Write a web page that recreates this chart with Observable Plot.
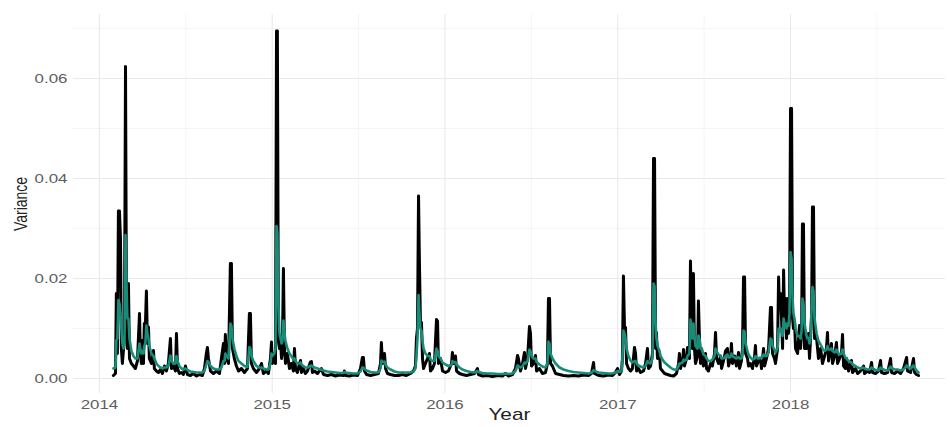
<!DOCTYPE html>
<html>
<head>
<meta charset="utf-8">
<script src="https://cdn.jsdelivr.net/npm/d3@7"></script>
<script src="https://cdn.jsdelivr.net/npm/@observablehq/plot@0.6"></script>
<style>
  body { margin: 0; background: #fff; }
</style>
</head>
<body>
<div id="chart"></div>
<script>
// Observation times, in decimal years
const year = [
  2014.081, 2014.093, 2014.098, 2014.104, 2014.110, 2014.116, 2014.122, 2014.127, 2014.133, 2014.139,
  2014.145, 2014.151, 2014.156, 2014.162, 2014.168, 2014.174, 2014.185, 2014.197, 2014.208, 2014.220,
  2014.232, 2014.237, 2014.243, 2014.249, 2014.255, 2014.260, 2014.266, 2014.272, 2014.278, 2014.284,
  2014.289, 2014.301, 2014.313, 2014.318, 2014.330, 2014.342, 2014.353, 2014.365, 2014.376, 2014.388,
  2014.399, 2014.411, 2014.417, 2014.428, 2014.440, 2014.446, 2014.452, 2014.463, 2014.475, 2014.486,
  2014.498, 2014.509, 2014.527, 2014.544, 2014.562, 2014.579, 2014.596, 2014.608, 2014.619, 2014.625,
  2014.631, 2014.643, 2014.660, 2014.677, 2014.695, 2014.706, 2014.718, 2014.724, 2014.729, 2014.735,
  2014.747, 2014.758, 2014.764, 2014.770, 2014.781, 2014.793, 2014.805, 2014.822, 2014.839, 2014.857,
  2014.868, 2014.874, 2014.880, 2014.891, 2014.909, 2014.926, 2014.938, 2014.949, 2014.967, 2014.978,
  2014.990, 2014.996, 2015.001, 2015.013, 2015.019, 2015.025, 2015.030, 2015.036, 2015.042, 2015.048,
  2015.054, 2015.059, 2015.065, 2015.071, 2015.077, 2015.088, 2015.100, 2015.111, 2015.123, 2015.129,
  2015.135, 2015.146, 2015.158, 2015.164, 2015.169, 2015.181, 2015.192, 2015.204, 2015.221, 2015.227,
  2015.233, 2015.245, 2015.262, 2015.279, 2015.285, 2015.297, 2015.320, 2015.343, 2015.366, 2015.389,
  2015.412, 2015.418, 2015.424, 2015.447, 2015.470, 2015.494, 2015.511, 2015.522, 2015.528, 2015.534,
  2015.546, 2015.569, 2015.592, 2015.615, 2015.627, 2015.632, 2015.638, 2015.650, 2015.656, 2015.667,
  2015.685, 2015.708, 2015.731, 2015.754, 2015.777, 2015.800, 2015.818, 2015.829, 2015.835, 2015.841,
  2015.847, 2015.852, 2015.858, 2015.864, 2015.870, 2015.876, 2015.887, 2015.899, 2015.910, 2015.916,
  2015.928, 2015.939, 2015.951, 2015.957, 2015.962, 2015.974, 2015.986, 2016.003, 2016.020, 2016.038,
  2016.043, 2016.049, 2016.061, 2016.067, 2016.084, 2016.101, 2016.124, 2016.148, 2016.171, 2016.188,
  2016.194, 2016.217, 2016.246, 2016.275, 2016.304, 2016.333, 2016.350, 2016.368, 2016.391, 2016.408,
  2016.420, 2016.425, 2016.437, 2016.449, 2016.460, 2016.466, 2016.478, 2016.489, 2016.495, 2016.501,
  2016.512, 2016.524, 2016.530, 2016.547, 2016.564, 2016.582, 2016.593, 2016.599, 2016.605, 2016.611,
  2016.622, 2016.640, 2016.663, 2016.686, 2016.715, 2016.744, 2016.773, 2016.802, 2016.831, 2016.848,
  2016.860, 2016.865, 2016.889, 2016.918, 2016.946, 2016.970, 2016.987, 2016.999, 2017.010, 2017.022,
  2017.027, 2017.033, 2017.039, 2017.045, 2017.051, 2017.062, 2017.074, 2017.085, 2017.097, 2017.103,
  2017.109, 2017.120, 2017.132, 2017.149, 2017.161, 2017.172, 2017.178, 2017.190, 2017.201, 2017.207,
  2017.213, 2017.219, 2017.224, 2017.230, 2017.242, 2017.247, 2017.259, 2017.271, 2017.288, 2017.305,
  2017.323, 2017.340, 2017.352, 2017.357, 2017.363, 2017.375, 2017.381, 2017.386, 2017.398, 2017.404,
  2017.415, 2017.421, 2017.427, 2017.433, 2017.438, 2017.444, 2017.450, 2017.462, 2017.467, 2017.473,
  2017.479, 2017.485, 2017.496, 2017.508, 2017.514, 2017.525, 2017.537, 2017.548, 2017.560, 2017.566,
  2017.572, 2017.583, 2017.595, 2017.601, 2017.612, 2017.624, 2017.635, 2017.641, 2017.653, 2017.658,
  2017.664, 2017.676, 2017.687, 2017.699, 2017.705, 2017.716, 2017.722, 2017.728, 2017.734, 2017.740,
  2017.751, 2017.757, 2017.768, 2017.780, 2017.792, 2017.797, 2017.803, 2017.815, 2017.826, 2017.832,
  2017.844, 2017.850, 2017.861, 2017.873, 2017.884, 2017.890, 2017.896, 2017.907, 2017.913, 2017.925,
  2017.931, 2017.936, 2017.942, 2017.948, 2017.954, 2017.960, 2017.965, 2017.971, 2017.977, 2017.983,
  2017.988, 2017.994, 2018.000, 2018.006, 2018.012, 2018.017, 2018.023, 2018.029, 2018.041, 2018.052,
  2018.058, 2018.064, 2018.069, 2018.075, 2018.081, 2018.093, 2018.104, 2018.110, 2018.116, 2018.122,
  2018.127, 2018.133, 2018.139, 2018.151, 2018.162, 2018.174, 2018.185, 2018.197, 2018.208, 2018.214,
  2018.220, 2018.232, 2018.237, 2018.243, 2018.255, 2018.266, 2018.272, 2018.284, 2018.295, 2018.301,
  2018.307, 2018.318, 2018.324, 2018.336, 2018.353, 2018.359, 2018.376, 2018.388, 2018.405, 2018.423,
  2018.428, 2018.446, 2018.457, 2018.469, 2018.475, 2018.492, 2018.509, 2018.521, 2018.527, 2018.544,
  2018.562, 2018.579, 2018.585, 2018.602, 2018.619, 2018.637, 2018.654, 2018.672, 2018.677, 2018.695,
  2018.712, 2018.718, 2018.729, 2018.741
];

// Realized variance (black)
const realized = [
  .0006, .0010, .0170, .0050, .0335, .0335, .0280, .0060, .0030, .0056,
  .0080, .0624, .0180, .0060, .0190, .0040, .0030, .0025, .0020, .0035,
  .0130, .0050, .0030, .0076, .0030, .0110, .0105, .0175, .0070, .0103,
  .0040, .0030, .0056, .0020, .0015, .0012, .0018, .0010, .0025, .0015,
  .0030, .0080, .0020, .0025, .0015, .0090, .0020, .0010, .0012, .0008,
  .0025, .0008, .0006, .0010, .0005, .0008, .0006, .0020, .0050, .0062,
  .0040, .0015, .0010, .0015, .0010, .0040, .0070, .0030, .0088, .0040,
  .0030, .0230, .0230, .0060, .0040, .0025, .0015, .0020, .0012, .0020,
  .0130, .0130, .0030, .0020, .0012, .0020, .0030, .0010, .0015, .0010,
  .0040, .0073, .0030, .0050, .0030, .0695, .0695, .0076, .0060, .0080,
  .0040, .0060, .0220, .0060, .0030, .0050, .0020, .0030, .0015, .0060,
  .0020, .0012, .0030, .0036, .0012, .0020, .0010, .0015, .0033, .0034,
  .0012, .0015, .0010, .0018, .0020, .0008, .0006, .0008, .0005, .0007,
  .0006, .0015, .0006, .0005, .0007, .0006, .0020, .0042, .0042, .0015,
  .0008, .0006, .0008, .0010, .0030, .0072, .0030, .0050, .0020, .0010,
  .0008, .0006, .0006, .0008, .0006, .0010, .0015, .0025, .0080, .0100,
  .0365, .0237, .0112, .0112, .0040, .0020, .0030, .0040, .0050, .0015,
  .0020, .0030, .0118, .0115, .0030, .0040, .0015, .0012, .0015, .0030,
  .0052, .0030, .0045, .0015, .0010, .0008, .0006, .0008, .0010, .0020,
  .0008, .0005, .0006, .0004, .0006, .0005, .0010, .0005, .0008, .0020,
  .0046, .0040, .0015, .0030, .0052, .0020, .0040, .0104, .0090, .0025,
  .0030, .0046, .0015, .0020, .0010, .0012, .0030, .0160, .0160, .0030,
  .0025, .0010, .0008, .0006, .0005, .0006, .0005, .0007, .0006, .0010,
  .0032, .0010, .0006, .0005, .0007, .0006, .0012, .0020, .0008, .0015,
  .0040, .0205, .0102, .0102, .0030, .0020, .0015, .0020, .0062, .0050,
  .0015, .0020, .0012, .0015, .0030, .0060, .0020, .0025, .0050, .0440,
  .0440, .0060, .0092, .0040, .0050, .0020, .0015, .0010, .0008, .0006,
  .0005, .0010, .0030, .0050, .0020, .0035, .0058, .0025, .0040, .0062,
  .0040, .0235, .0080, .0060, .0210, .0060, .0030, .0045, .0155, .0080,
  .0030, .0060, .0025, .0050, .0020, .0015, .0030, .0025, .0050, .0092,
  .0040, .0030, .0045, .0020, .0035, .0055, .0060, .0025, .0040, .0070,
  .0030, .0045, .0025, .0052, .0020, .0035, .0060, .0203, .0203, .0050,
  .0040, .0025, .0030, .0020, .0045, .0066, .0025, .0035, .0040, .0020,
  .0060, .0025, .0040, .0060, .0142, .0142, .0050, .0040, .0030, .0060,
  .0203, .0140, .0170, .0120, .0060, .0217, .0120, .0160, .0080, .0160,
  .0090, .0120, .0540, .0540, .0120, .0100, .0116, .0060, .0050, .0106,
  .0060, .0090, .0309, .0309, .0060, .0060, .0090, .0040, .0080, .0130,
  .0343, .0343, .0080, .0080, .0040, .0060, .0030, .0045, .0060, .0092,
  .0035, .0060, .0070, .0030, .0045, .0072, .0030, .0040, .0050, .0088,
  .0025, .0020, .0040, .0015, .0036, .0012, .0020, .0010, .0015, .0025,
  .0010, .0015, .0012, .0032, .0012, .0010, .0015, .0036, .0012, .0010,
  .0012, .0040, .0012, .0010, .0015, .0010, .0020, .0042, .0015, .0012,
  .0040, .0012, .0008, .0006
];

// Model variance (teal)
const fitted = [
  .0020, .0022, .0076, .0080, .0157, .0150, .0130, .0100, .0070, .0060,
  .0070, .0287, .0200, .0120, .0120, .0080, .0055, .0045, .0040, .0040,
  .0070, .0060, .0050, .0055, .0050, .0065, .0070, .0106, .0090, .0080,
  .0065, .0050, .0045, .0040, .0030, .0025, .0022, .0020, .0022, .0022,
  .0025, .0046, .0035, .0030, .0030, .0045, .0035, .0025, .0020, .0018,
  .0020, .0017, .0014, .0013, .0012, .0012, .0012, .0015, .0028, .0035,
  .0033, .0025, .0020, .0018, .0018, .0022, .0035, .0035, .0050, .0045,
  .0040, .0110, .0105, .0080, .0060, .0045, .0035, .0030, .0025, .0023,
  .0063, .0060, .0045, .0035, .0025, .0022, .0022, .0020, .0018, .0018,
  .0030, .0050, .0045, .0050, .0060, .0305, .0290, .0150, .0090, .0080,
  .0070, .0075, .0116, .0090, .0075, .0060, .0050, .0045, .0038, .0040,
  .0035, .0030, .0030, .0032, .0028, .0025, .0022, .0022, .0025, .0026,
  .0024, .0022, .0020, .0018, .0018, .0016, .0014, .0013, .0012, .0011,
  .0011, .0013, .0012, .0011, .0010, .0010, .0014, .0022, .0022, .0019,
  .0016, .0013, .0012, .0012, .0020, .0036, .0033, .0034, .0028, .0022,
  .0018, .0014, .0012, .0012, .0012, .0012, .0014, .0020, .0045, .0080,
  .0167, .0130, .0100, .0095, .0075, .0060, .0050, .0045, .0045, .0038,
  .0035, .0035, .0060, .0055, .0045, .0040, .0032, .0028, .0025, .0027,
  .0035, .0032, .0033, .0028, .0022, .0018, .0015, .0013, .0012, .0015,
  .0013, .0011, .0010, .0010, .0009, .0009, .0010, .0009, .0010, .0015,
  .0026, .0025, .0022, .0025, .0032, .0030, .0035, .0058, .0055, .0045,
  .0040, .0040, .0033, .0028, .0024, .0022, .0030, .0074, .0070, .0050,
  .0040, .0030, .0022, .0018, .0015, .0013, .0012, .0011, .0010, .0011,
  .0017, .0015, .0012, .0011, .0010, .0010, .0012, .0015, .0013, .0015,
  .0040, .0096, .0090, .0080, .0060, .0045, .0036, .0032, .0035, .0035,
  .0030, .0026, .0024, .0022, .0025, .0035, .0032, .0030, .0040, .0190,
  .0185, .0110, .0080, .0065, .0055, .0045, .0038, .0032, .0027, .0022,
  .0018, .0018, .0025, .0030, .0030, .0032, .0038, .0035, .0038, .0045,
  .0050, .0118, .0100, .0080, .0110, .0085, .0065, .0060, .0086, .0080,
  .0060, .0060, .0048, .0045, .0040, .0035, .0035, .0038, .0045, .0060,
  .0055, .0048, .0045, .0040, .0040, .0045, .0048, .0042, .0043, .0050,
  .0045, .0042, .0040, .0043, .0040, .0040, .0050, .0096, .0094, .0070,
  .0055, .0048, .0042, .0038, .0040, .0045, .0042, .0040, .0042, .0040,
  .0048, .0045, .0045, .0052, .0080, .0078, .0065, .0058, .0052, .0060,
  .0100, .0095, .0100, .0095, .0085, .0120, .0110, .0110, .0100, .0110,
  .0105, .0130, .0253, .0240, .0160, .0130, .0120, .0100, .0085, .0085,
  .0080, .0095, .0160, .0150, .0110, .0085, .0080, .0070, .0080, .0140,
  .0183, .0175, .0120, .0090, .0075, .0068, .0060, .0055, .0058, .0065,
  .0058, .0058, .0060, .0055, .0052, .0058, .0052, .0048, .0050, .0058,
  .0050, .0042, .0040, .0035, .0032, .0028, .0025, .0022, .0020, .0022,
  .0020, .0018, .0018, .0022, .0020, .0017, .0016, .0022, .0020, .0017,
  .0016, .0024, .0021, .0018, .0018, .0016, .0018, .0026, .0023, .0020,
  .0026, .0022, .0016, .0012
];

const yTicks = [0, 0.02, 0.04, 0.06];
const yMinorTicks = [0.01, 0.03, 0.05, 0.07];
const xTicks = [2014, 2015, 2016, 2017, 2018];
const xMinorTicks = [2014.5, 2015.5, 2016.5, 2017.5, 2018.5];

const rows = year.map((t, i) => ({t, realized: realized[i], fitted: fitted[i]}));

const chart = Plot.plot({
  width: 950,
  height: 427,
  marginLeft: 73,
  marginRight: 5,
  marginTop: 14,
  marginBottom: 34,
  style: {fontFamily: "'Liberation Sans', Arial, sans-serif", fontSize: "13px", background: "#fff"},
  x: {domain: [2013.85, 2018.897]},
  y: {domain: [-0.003, 0.0728]},
  marks: [
    Plot.ruleY(yMinorTicks, {stroke: "#f3f3f3", strokeWidth: 0.8}),
    Plot.ruleX(xMinorTicks, {stroke: "#f3f3f3", strokeWidth: 0.8}),
    Plot.ruleY(yTicks, {stroke: "#e9e9e9", strokeWidth: 1.1}),
    Plot.ruleX(xTicks, {stroke: "#e9e9e9", strokeWidth: 1.1}),
    Plot.axisY(yTicks, {tickSize: 0, tickPadding: 6, tickFormat: d3.format(".2f"), fill: "#5e5e5e", label: null}),
    Plot.axisX(xTicks, {tickSize: 0, tickPadding: 6, tickFormat: "d", fill: "#5e5e5e", label: null}),
    Plot.line(rows, {x: "t", y: "realized", stroke: "#000", strokeWidth: 3}),
    Plot.line(rows, {x: "t", y: "fitted", stroke: "#178c78", strokeWidth: 2.6}),
    Plot.text(["Year"], {text: d => d, frameAnchor: "bottom", dy: 26, fontSize: 16, fill: "#222"}),
    Plot.text(["Variance"], {text: d => d, frameAnchor: "left", textAnchor: "middle", dx: -52, rotate: -90, fontSize: 14, fill: "#222"})
  ]
});

document.getElementById("chart").append(chart);

// Widen all lettering horizontally around each label's anchor point
function widenText(svg, k) {
  for (const t of svg.querySelectorAll("text")) {
    const r = t.getBoundingClientRect();
    const anchor = getComputedStyle(t).textAnchor;
    const rotated = (t.getAttribute("transform") || "").includes("rotate");
    const sx = rotated || anchor === "middle" ? (r.left + r.right) / 2
      : anchor === "end" ? r.right : r.left;
    const p = new DOMPoint(sx, r.top).matrixTransform(t.parentNode.getScreenCTM().inverse());
    const g = document.createElementNS("http://www.w3.org/2000/svg", "g");
    g.setAttribute("transform", `translate(${p.x},0) scale(${k},1) translate(${-p.x},0)`);
    t.replaceWith(g);
    g.append(t);
  }
}
widenText(chart, 1.3);
</script>
</body>
</html>
